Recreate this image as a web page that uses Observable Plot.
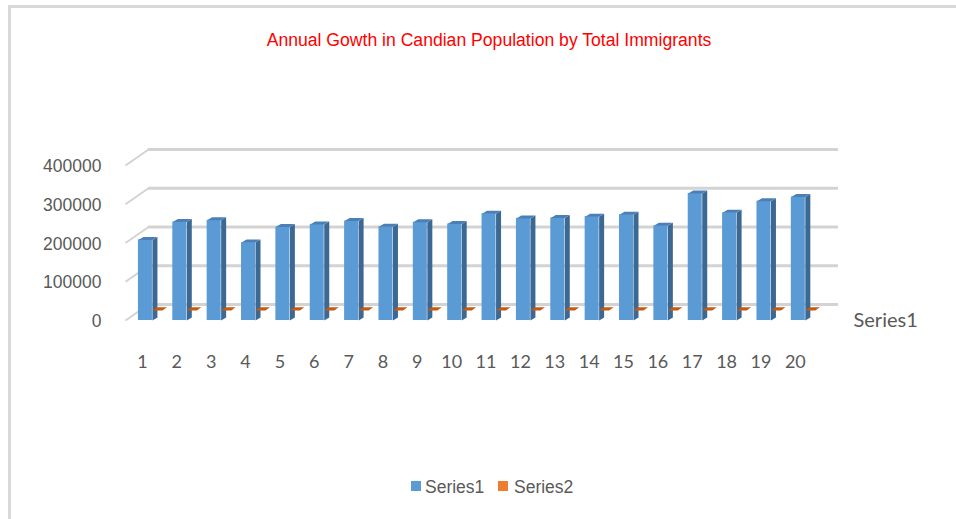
<!DOCTYPE html>
<html>
<head>
<meta charset="utf-8">
<script src="https://cdn.jsdelivr.net/npm/d3@7"></script>
<script src="https://cdn.jsdelivr.net/npm/@observablehq/plot@0.6"></script>
<style>
  html, body { margin: 0; padding: 0; background: #fff; }
  #wrap { position: relative; width: 956px; height: 519px; overflow: hidden; }
  #frame { position: absolute; left: 8px; top: 5px; width: 960px; height: 530px;
           border-left: 3px solid #d9d9d9; border-top: 3px solid #d9d9d9; }
  #title { position: absolute; left: 0; width: 978px; top: 30px; text-align: center;
           font-family: "Liberation Sans", Arial, sans-serif; font-size: 17.6px; color: #ff0000; }
  #chart { position: absolute; left: 0; top: 0; }
  .lg { position: absolute; font-family: "Liberation Sans", Arial, sans-serif; font-size: 17.5px; color: #595959;
        top: 477px; line-height: 20px; }
  .sw { position: absolute; width: 10px; height: 10px; top: 481px; }
</style>
</head>
<body>
<div id="wrap">
  <div id="frame"></div>
  <div id="chart"></div>
  <div id="title"></div>
  <div id="legend"></div>
</div>
<script>
// ---- data ----
const titleText = "Annual Gowth in Candian Population by Total Immigrants";
const categories = ["1","2","3","4","5","6","7","8","9","10","11","12","13","14","15","16","17","18","19","20"];
const series1 = [208000, 254000, 258500, 201000, 241000, 248000, 256500, 242000, 253500, 249000,
                 275500, 263500, 264500, 268000, 273000, 244500, 328000, 278000, 308000, 318500];
const series2 = [1.1, 1.0, 1.0, 1.1, 1.0, 1.0, 1.0, 0.9, 1.0, 1.0,
                 1.1, 1.0, 1.0, 1.1, 1.0, 0.9, 1.2, 1.1, 1.1, 1.2];
const seriesNames = ["Series1", "Series2"];
const yTicks = [0, 100000, 200000, 300000, 400000];

// ---- layout ----
const W = 956, H = 519;
const pLeft = 125, pRight = 815, pTop = 165, pBottom = 320;
const X0 = 0.42, X1 = 20.5;
const kx = (pRight - pLeft) / (X1 - X0);   // px per x unit
const ky = (pBottom - pTop) / 400000;      // px per y unit
const px = p => p / kx, py = p => p / ky;

const colors = {front: "#5b9bd5", side: "#3c6894", topf: "#4a80b7", orange: "#c55a11", grid: "#d3d3d3", text: "#595959"};

const rows = categories.map((c, k) => ({i: k + 1, label: c, v: series1[k], s: series2[k]}));

const hw = px(7), bdx = px(5), bdy = py(3);
const sidePts = [], topPts = [], orangePts = [];
rows.forEach(r => {
  const xr = r.i + hw, xl = r.i - hw;
  sidePts.push({id: r.i, x: xr, y: 0}, {id: r.i, x: xr, y: r.v}, {id: r.i, x: xr + bdx, y: r.v + bdy}, {id: r.i, x: xr + bdx, y: bdy});
  topPts.push({id: r.i, x: xl, y: r.v}, {id: r.i, x: xr, y: r.v}, {id: r.i, x: xr + bdx, y: r.v + bdy}, {id: r.i, x: xl + bdx, y: r.v + bdy});
  const c = r.i + px(12), b = r.s + py(10), oh = px(5), odx = px(4.5), ody = py(3.3);
  orangePts.push({id: r.i, x: c - oh, y: b}, {id: r.i, x: c + oh, y: b}, {id: r.i, x: c + oh + odx, y: b + ody}, {id: r.i, x: c - oh + odx, y: b + ody});
});

const font = "'Liberation Sans', Arial, sans-serif";
const font2 = "Lato, 'Open Sans', sans-serif";

const chart = Plot.plot({
  width: W, height: H,
  marginLeft: pLeft, marginRight: W - pRight, marginTop: pTop, marginBottom: H - pBottom,
  x: {domain: [X0, X1], axis: null},
  y: {domain: [0, 400000], axis: null},
  style: {background: "transparent", overflow: "visible"},
  marks: [
    Plot.ruleY(yTicks, {x1: () => X0, x2: () => X1, y: d => d, dx: 23, dy: -16, stroke: colors.grid, strokeWidth: 2.8}),
    Plot.link(yTicks, {x1: () => X0, y1: d => d, x2: () => X0 + px(23), y2: d => d + py(16), stroke: colors.grid, strokeWidth: 2}),
    Plot.rectY(rows, {x1: d => d.i - hw, x2: d => d.i + hw, y1: () => 0, y2: "v", fill: colors.front}),
    Plot.line(sidePts, {x: "x", y: "y", z: "id", fill: colors.side, stroke: "none"}),
    Plot.line(topPts, {x: "x", y: "y", z: "id", fill: colors.topf, stroke: "none"}),
    Plot.line(orangePts, {x: "x", y: "y", z: "id", fill: colors.orange, stroke: "none"}),
    Plot.text(yTicks, {x: () => X0, y: d => d, text: d => String(d), dx: -24, dy: 1, textAnchor: "end",
      fontSize: 17.5, fontFamily: font, fill: colors.text}),
    Plot.text(rows, {x: "i", y: () => 0, text: "label", dx: -3, dy: 42, fontSize: 18, fontFamily: font2, fill: colors.text}),
    Plot.text([seriesNames[0]], {x: () => X1, y: () => 0, text: d => d, dx: 38, textAnchor: "start",
      fontSize: 20, fontFamily: font2, fill: colors.text})
  ]
});
document.getElementById("chart").appendChild(chart);
document.getElementById("title").textContent = titleText;

const legendColors = ["#5b9bd5", "#ed7d31"];
const swX = [411, 498], txX = [425, 514];
const leg = document.getElementById("legend");
seriesNames.forEach((n, k) => {
  const sw = document.createElement("div"); sw.className = "sw"; sw.style.background = legendColors[k]; sw.style.left = swX[k] + "px";
  const tx = document.createElement("div"); tx.className = "lg"; tx.textContent = n; tx.style.left = txX[k] + "px";
  leg.appendChild(sw); leg.appendChild(tx);
});
</script>
</body>
</html>
